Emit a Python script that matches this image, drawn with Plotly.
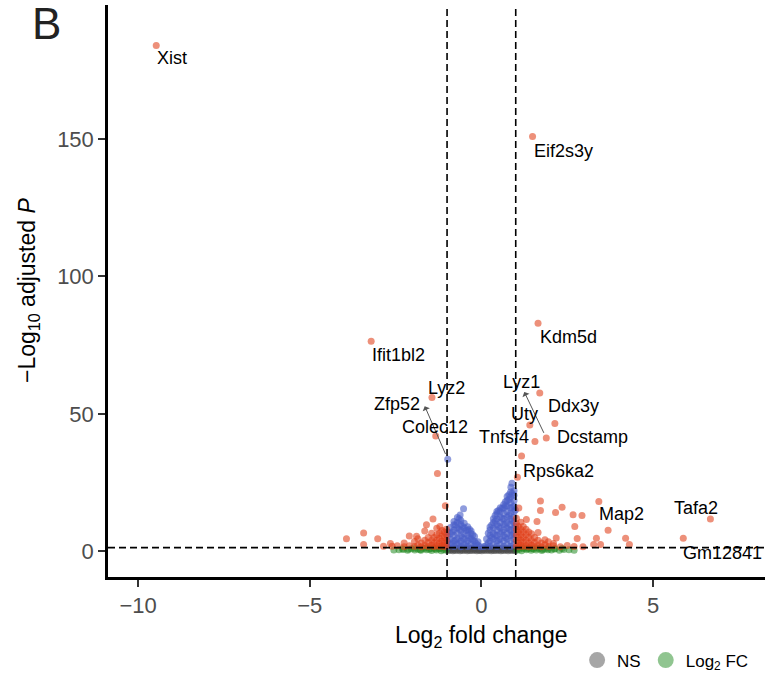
import plotly.graph_objects as go

# ---------------- data ----------------
# NS: |log2FC| < 1 and padj not significant
ns_x = [-0.97, -0.9, -0.83, -0.76, -0.69, -0.62, -0.55, -0.48, -0.41, -0.34, -0.27, -0.2, -0.13, -0.06,
        0.01, 0.08, 0.15, 0.22, 0.29, 0.36, 0.43, 0.5, 0.57, 0.64, 0.71, 0.78, 0.85, 0.92, 0.98,
        -0.94, -0.87, -0.8, -0.73, -0.66, -0.59, -0.52, -0.45, -0.38, -0.31, -0.24, -0.17, -0.1, -0.03,
        0.04, 0.11, 0.18, 0.25, 0.32, 0.39, 0.46, 0.53, 0.6, 0.67, 0.74, 0.81, 0.88, 0.95,
        -0.96, -0.85, -0.74, -0.63, -0.52, -0.41, -0.3, -0.19, -0.08, 0.06, 0.17, 0.28, 0.39, 0.5,
        0.61, 0.72, 0.83, 0.94]
ns_y = [0.21, 0.34, 0.18, 0.27, 0.31, 0.2, 0.25, 0.36, 0.17, 0.29, 0.23, 0.33, 0.19, 0.26,
        0.12, 0.3, 0.22, 0.35, 0.18, 0.28, 0.24, 0.32, 0.2, 0.27, 0.34, 0.19, 0.3, 0.23, 0.26,
        0.66, 0.72, 0.61, 0.78, 0.69, 0.64, 0.75, 0.7, 0.62, 0.77, 0.68, 0.73, 0.6, 0.65,
        0.58, 0.71, 0.76, 0.63, 0.7, 0.67, 0.74, 0.62, 0.79, 0.66, 0.71, 0.64, 0.75, 0.69,
        1.1, 1.02, 1.18, 1.07, 1.14, 1.0, 1.12, 1.05, 0.98, 1.03, 1.16, 1.08, 1.13, 1.01,
        1.19, 1.06, 1.11, 1.15]

# Log2 FC only: |log2FC| > 1, padj not significant
fc_x = [-1.03, -1.1, -1.17, -1.24, -1.31, -1.38, -1.45, -1.52, -1.6, -1.68, -1.76, -1.85, -1.94,
        -2.04, -2.15, -2.27, -2.4, -2.55, -1.06, -1.2, -1.34, -1.48, -1.62, -1.78, -1.95, -2.12, -2.3,
        1.03, 1.1, 1.17, 1.24, 1.31, 1.38, 1.45, 1.52, 1.6, 1.68, 1.76, 1.85, 1.94, 2.04, 2.15, 2.27,
        2.4, 2.55, 2.7, 1.06, 1.2, 1.34, 1.48, 1.62, 1.78, 1.95, 2.12, 2.35]
fc_y = [0.3, 0.65, 0.2, 0.9, 0.45, 1.1, 0.25, 0.7, 0.5, 0.95, 0.3, 0.75, 0.4,
        0.85, 0.35, 0.6, 0.5, 0.4, 1.15, 1.05, 0.8, 1.0, 1.15, 0.55, 1.05, 0.7, 0.9,
        0.35, 0.7, 0.2, 0.95, 0.5, 1.1, 0.3, 0.75, 0.45, 0.9, 0.25, 0.8, 0.55, 0.4, 0.9, 0.3,
        0.65, 0.5, 0.35, 1.1, 1.15, 0.85, 1.0, 1.2, 0.6, 1.05, 0.75, 1.0]

# p-value only: |log2FC| < 1, padj significant
pv_x = [-0.98, -0.98, -0.98, -0.98, -0.9, -0.9, -0.9, -0.9,
        -0.8, -0.8, -0.8, -0.8, -0.8, -0.8, -0.7, -0.7, -0.7, -0.7, -0.7, -0.7,
        -0.6, -0.6, -0.6, -0.6, -0.6, -0.6, -0.5, -0.5, -0.5, -0.5, -0.5,
        -0.4, -0.4, -0.4, -0.4, -0.4, -0.3, -0.3, -0.3, -0.3, -0.2, -0.2, -0.2, -0.1, -0.1, -0.03,
        -0.52, -0.62, -0.85, -0.85, -0.75, -0.75, -0.65, -0.65, -0.65, -0.55, -0.55, -0.45, -0.45,
        -0.35, -0.35, -0.25, -0.25, -0.15,
        0.08, 0.15, 0.15, 0.25, 0.25, 0.25, 0.25, 0.25,
        0.35, 0.35, 0.35, 0.35, 0.35, 0.35,
        0.45, 0.45, 0.45, 0.45, 0.45, 0.45, 0.45, 0.45,
        0.55, 0.55, 0.55, 0.55, 0.55, 0.55, 0.55, 0.55,
        0.65, 0.65, 0.65, 0.65, 0.65, 0.65, 0.65, 0.65, 0.65,
        0.75, 0.75, 0.75, 0.75, 0.75, 0.75, 0.75, 0.75, 0.75, 0.75,
        0.85, 0.85, 0.85, 0.85, 0.85, 0.85, 0.85, 0.85, 0.85, 0.85, 0.85,
        0.95, 0.95, 0.95, 0.95, 0.95, 0.95, 0.95, 0.95, 0.95, 0.95, 0.95,
        0.89, 0.86, 0.2, 0.2, 0.3, 0.3, 0.4, 0.4, 0.4, 0.5, 0.5, 0.5, 0.6, 0.6, 0.6,
        0.7, 0.7, 0.7, 0.7, 0.8, 0.8, 0.8, 0.8, 0.9, 0.9, 0.9, 0.9, 0.99, 0.99]
pv_y = [1.6, 3.5, 5.4, 7.0, 2.4, 4.4, 6.4, 8.6,
        1.7, 3.7, 5.7, 7.7, 9.6, 10.8, 2.5, 4.5, 6.5, 8.5, 10.5, 12.3,
        1.6, 3.6, 5.6, 7.6, 9.6, 11.2, 2.4, 4.4, 6.4, 8.4, 10.2,
        1.7, 3.7, 5.7, 7.6, 8.9, 2.5, 4.5, 6.4, 7.3, 1.8, 3.6, 5.3, 2.2, 3.4, 1.6,
        15.4, 13.2, 3.0, 7.0, 4.0, 9.5, 3.0, 8.0, 11.8, 5.0, 9.0, 3.0, 7.5,
        5.0, 8.0, 4.0, 6.0, 2.8,
        1.7, 2.2, 4.4, 1.7, 3.7, 5.7, 7.7, 8.8,
        2.4, 4.4, 6.4, 8.4, 10.4, 11.8,
        1.7, 3.7, 5.7, 7.7, 9.7, 11.7, 13.6, 14.4,
        2.4, 4.4, 6.4, 8.4, 10.4, 12.4, 14.4, 15.8,
        1.7, 3.7, 5.7, 7.7, 9.7, 11.7, 13.7, 15.7, 17.0,
        2.4, 4.4, 6.4, 8.4, 10.4, 12.4, 14.4, 16.4, 18.4, 19.9,
        1.7, 3.7, 5.7, 7.7, 9.7, 11.7, 13.7, 15.7, 17.7, 19.7, 21.5,
        2.4, 4.4, 6.4, 8.4, 10.4, 12.4, 14.4, 16.4, 18.4, 20.4, 22.0,
        24.7, 23.3, 3.0, 6.5, 5.0, 9.5, 6.0, 11.0, 13.0, 4.0, 9.0, 14.8, 7.0, 12.0, 15.6,
        5.0, 10.0, 16.5, 18.0, 8.0, 13.0, 18.8, 20.5, 6.0, 11.0, 16.0, 21.0, 9.0, 15.0]

# p-value and log2 FC: |log2FC| > 1, padj significant
both_x = [-1.02, -1.02, -1.02, -1.02, -1.08, -1.08, -1.08, -1.08, -1.15, -1.15, -1.15, -1.15,
          -1.22, -1.22, -1.22, -1.22, -1.3, -1.3, -1.3, -1.3, -1.38, -1.38, -1.38,
          -1.45, -1.45, -1.45, -1.55, -1.55, -1.55, -1.65, -1.65, -1.65, -1.75, -1.75,
          -1.85, -1.85, -1.95, -1.95, -2.1, -2.1, -2.25, -2.25, -2.45, -2.6, -1.89,
          1.02, 1.02, 1.02, 1.02, 1.02, 1.02, 1.08, 1.08, 1.08, 1.08, 1.08,
          1.15, 1.15, 1.15, 1.15, 1.15, 1.22, 1.22, 1.22, 1.22, 1.22, 1.3, 1.3, 1.3, 1.3,
          1.38, 1.38, 1.38, 1.38, 1.46, 1.46, 1.46, 1.55, 1.55, 1.55, 1.65, 1.65, 1.65,
          1.75, 1.75, 1.85, 1.85, 1.95, 1.95, 2.1, 2.1, 2.3, 2.5, 2.7,
          -1.28, -1.05, -1.41, -1.6, -1.21, -3.93, -3.43, -3.43, -3.02, -2.85, -2.65,
          1.17, 1.72, 1.72, 1.09, 2.16, 2.35, 2.67, 2.93, 2.72, 3.69, 3.35, 4.2, 3.27,
          3.47, 4.31, 2.18, 2.79, 2.96, 1.31, 1.62]
both_y = [2.0, 4.0, 6.0, 8.0, 1.6, 3.0, 5.0, 7.0, 2.2, 3.6, 5.5, 7.5,
          1.7, 3.0, 4.6, 6.5, 2.0, 4.0, 6.0, 8.3, 1.6, 3.1, 5.0,
          2.2, 4.0, 6.5, 1.7, 3.2, 5.0, 2.0, 4.0, 7.3, 1.6, 3.0,
          2.2, 4.5, 1.7, 3.5, 2.0, 5.5, 1.6, 3.0, 2.0, 1.8, 5.4,
          2.0, 4.0, 6.0, 8.0, 10.0, 12.0, 1.6, 3.0, 5.0, 7.0, 9.0,
          2.2, 4.0, 6.0, 8.0, 10.5, 1.7, 3.3, 5.0, 7.0, 9.0, 2.0, 4.0, 6.0, 8.0,
          1.6, 3.0, 5.0, 7.0, 2.2, 4.0, 6.3, 1.7, 3.2, 5.0, 2.0, 4.0, 6.8,
          1.6, 3.0, 2.3, 4.2, 1.7, 3.4, 2.0, 2.8, 1.6, 2.1, 1.7,
          28.3, 16.5, 11.7, 9.6, 9.0, 4.5, 6.6, 2.4, 4.5, 1.8, 2.8,
          34.6, 18.3, 14.8, 15.7, 14.1, 16.0, 13.3, 13.0, 9.0, 7.6, 4.7, 4.7, 2.4,
          2.4, 2.4, 4.8, 4.6, 1.6, 11.5, 10.8]

# labelled genes
gene_names = ["Xist", "Eif2s3y", "Kdm5d", "Ifit1bl2", "Lyz2", "Zfp52", "Colec12", "Lyz1",
              "Ddx3y", "Uty", "Tnfsf4", "Dcstamp", "Rps6ka2", "Map2", "Tafa2", "Gm12841"]
gene_x = [-9.47, 1.49, 1.65, -3.21, -1.44, -0.98, -1.33, 1.89,
          1.70, 1.41, 1.56, 2.14, 1.05, 3.42, 6.67, 5.88]
gene_y = [184.1, 150.9, 83.0, 76.4, 55.9, 33.5, 41.9, 41.2,
          57.6, 45.9, 39.9, 46.5, 26.9, 18.1, 11.7, 4.7]
gene_group = ["both", "both", "both", "both", "both", "pv", "both", "both",
              "both", "both", "both", "both", "both", "both", "both", "both"]

fc_cutoff = 1.0
p_cutoff_log = 1.3
x_ticks = [-10, -5, 0, 5]
x_ticktext = ["\u221210", "\u22125", "0", "5"]
y_ticks = [0, 50, 100, 150]

# ---------------- styling ----------------
col_ns = "#4d4d4d"
col_fc = "#228B22"
col_pv = "#4a5fc8"
col_both = "#e0401a"
FONT = "Liberation Sans, Arial, Helvetica, sans-serif"

# label placement (pixel offsets from each point)
label_shift = {
    "Xist": (16, -13), "Eif2s3y": (31, -14), "Kdm5d": (30, -14), "Ifit1bl2": (27, -14),
    "Lyz2": (15, 10), "Zfp52": (-51, 55), "Colec12": (-1, 9), "Lyz1": (-25, 56),
    "Ddx3y": (34, -13), "Uty": (-5, 11), "Tnfsf4": (-31, 5), "Dcstamp": (38, -14),
    "Rps6ka2": (41, 6), "Map2": (23, -13), "Tafa2": (-14, 11), "Gm12841": (39, -15),
}
arrow_genes = {"Zfp52": (-23, 53), "Lyz1": (-22, 46)}  # arrow head offset (px) from point

fig = go.Figure()

pv_all_x = pv_x + [gx for gx, g in zip(gene_x, gene_group) if g == "pv"]
pv_all_y = pv_y + [gy for gy, g in zip(gene_y, gene_group) if g == "pv"]
both_all_x = both_x + [gx for gx, g in zip(gene_x, gene_group) if g == "both"]
both_all_y = both_y + [gy for gy, g in zip(gene_y, gene_group) if g == "both"]

for xs, ys, c, a in [(ns_x, ns_y, col_ns, 0.55), (fc_x, fc_y, col_fc, 0.55),
                     (pv_all_x, pv_all_y, col_pv, 0.62), (both_all_x, both_all_y, col_both, 0.58)]:
    fig.add_trace(go.Scatter(x=xs, y=ys, mode="markers", showlegend=False, hoverinfo="skip",
                             marker=dict(size=7, color=c, opacity=a, line=dict(width=0))))

# legend entries (only the visible ones)
fig.add_trace(go.Scatter(x=[None], y=[None], mode="markers", name="NS",
                         marker=dict(size=16, color=col_ns, opacity=0.5)))
fig.add_trace(go.Scatter(x=[None], y=[None], mode="markers", name="Log<sub>2</sub> FC",
                         marker=dict(size=16, color=col_fc, opacity=0.5)))

# cutoff lines
dash = "7px,4px"
for xv in (-fc_cutoff, fc_cutoff):
    fig.add_shape(type="line", xref="x", yref="paper", x0=xv, x1=xv, y0=0, y1=1,
                  line=dict(color="black", width=1.6, dash=dash))
fig.add_shape(type="line", xref="paper", yref="y", x0=0, x1=1, y0=p_cutoff_log, y1=p_cutoff_log,
              line=dict(color="black", width=1.6, dash=dash))

# gene labels
for name, gx, gy in zip(gene_names, gene_x, gene_y):
    dx, dy = label_shift[name]
    fig.add_annotation(x=gx, y=gy, text=name, showarrow=False, xshift=dx, yshift=dy,
                       xanchor="center", yanchor="middle",
                       font=dict(family=FONT, size=18, color="black"))
    if name in arrow_genes:
        ax, ay = arrow_genes[name]
        fig.add_annotation(x=gx, y=gy, xshift=ax, yshift=ay, text="", showarrow=True,
                           arrowhead=1, arrowsize=1.3, arrowwidth=1, arrowcolor="#555555",
                           ax=-ax, ay=ay, startstandoff=4)

# axis titles and panel tag
fig.add_annotation(xref="paper", yref="paper", x=0.569, y=-0.104, text="Log<sub>2</sub> fold change",
                   showarrow=False, xanchor="center", yanchor="middle",
                   font=dict(family=FONT, size=23, color="black"))
fig.add_annotation(xref="paper", yref="paper", x=0, xshift=-80, y=0.5,
                   text="\u2212Log<sub>10</sub> adjusted <i>P</i>", textangle=-90,
                   showarrow=False, xanchor="center", yanchor="middle",
                   font=dict(family=FONT, size=23, color="black"))
fig.add_annotation(xref="paper", yref="paper", x=-0.093, y=0.968, text="B",
                   showarrow=False, xanchor="center", yanchor="middle",
                   font=dict(family=FONT, size=44, color="#222222"))

axis_common = dict(showgrid=False, zeroline=False, showline=True, linecolor="black", linewidth=2.5,
                   ticks="outside", ticklen=7, tickwidth=2, tickcolor="#333333",
                   tickfont=dict(family=FONT, size=22, color="#4d4d4d"))
fig.update_layout(
    width=765, height=679,
    margin=dict(l=108, r=0, t=5, b=98),
    paper_bgcolor="white", plot_bgcolor="white",
    xaxis=dict(range=[-10.875, 8.26], tickvals=x_ticks, ticktext=x_ticktext, **axis_common),
    yaxis=dict(range=[-9.4, 198.8], tickvals=y_ticks, **axis_common),
    legend=dict(orientation="h", x=0.714, y=-0.146, xanchor="left", yanchor="middle",
                font=dict(family=FONT, size=17, color="black"), bgcolor="rgba(0,0,0,0)"),
    font=dict(family=FONT),
)

fig.write_html("out.html", config={"displayModeBar": False},
               post_script="document.body.style.margin='0px';")
